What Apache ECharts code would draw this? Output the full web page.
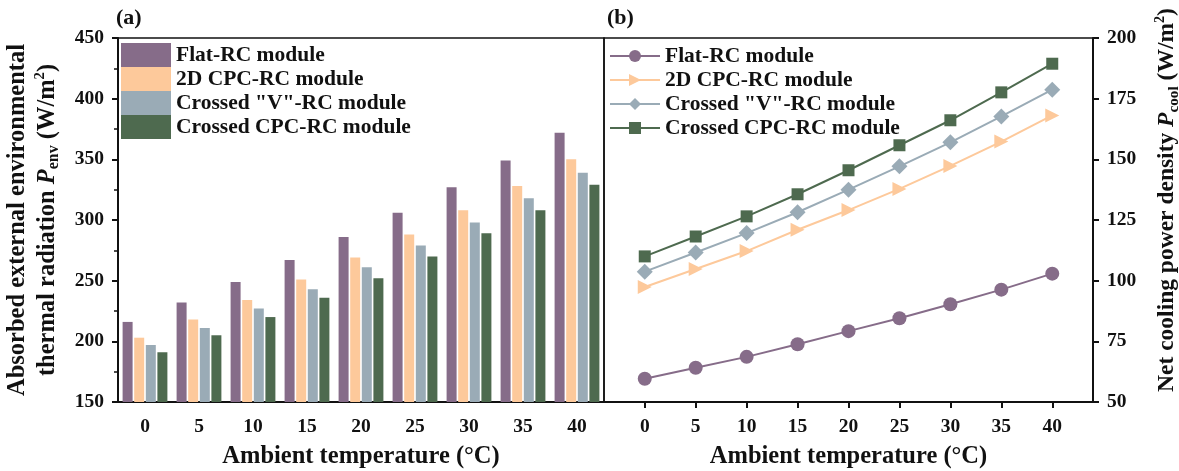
<!DOCTYPE html>
<html>
<head>
<meta charset="utf-8">
<script src="https://cdn.jsdelivr.net/npm/echarts@6/dist/echarts.min.js"></script>
<style>
  html, body { margin: 0; padding: 0; background: #fff; }
  #chart { width: 1179px; height: 471px; }
</style>
</head>
<body>
<div id="chart"></div>
<script>
// ambient temperature (°C)
const temps = [0, 5, 10, 15, 20, 25, 30, 35, 40]
const seriesNames = ['Flat-RC module', '2D CPC-RC module', 'Crossed "V"-RC module', 'Crossed CPC-RC module']
const colors = ['#866c89', '#fdc99b', '#9aabb6', '#4e6a4f']

// (a) absorbed external environmental thermal radiation, W/m2
const envFlat = [216, 232, 249, 267, 286, 306, 327, 349, 372]
const env2D = [203, 218, 234, 251, 269, 288, 308, 328, 350]
const envV = [197, 211, 227, 243, 261, 279, 298, 318, 339]
const envCPC = [191, 205, 220, 236, 252, 270, 289, 308, 329]

// (b) net cooling power density, W/m2
const coolFlat = [59.6, 64.1, 68.6, 73.8, 79.2, 84.5, 90.3, 96.3, 102.9]
const cool2D = [97.4, 104.8, 112.2, 121.0, 129.1, 137.8, 147.3, 157.3, 168.1]
const coolV = [103.7, 111.6, 119.6, 128.2, 137.5, 147.1, 157.0, 167.7, 178.7]
const coolCPC = [110.0, 118.2, 126.5, 135.6, 145.5, 155.8, 166.1, 177.6, 189.4]

const font = 'Liberation Serif'
const envData = [envFlat, env2D, envV, envCPC]
const coolData = [coolFlat, cool2D, coolV, coolCPC]
const symbols = ['circle', 'path://M0,0 L10,5 L0,10 Z', 'diamond', 'rect']
const symbolSizes = [14, 14, 16, 12]

const axisText = { fontFamily: font, fontWeight: 'bold', fontSize: 19.5, color: '#111' }
function nameStyle(size, pad) {
  return {
    fontFamily: font, fontWeight: 'bold', fontSize: size, color: '#111', lineHeight: size + 5,
    padding: pad,
    rich: {
      it: { fontFamily: font, fontWeight: 'bold', fontStyle: 'italic', fontSize: size, color: '#111' },
      sub: { fontFamily: font, fontWeight: 'bold', fontSize: size * 0.65, color: '#111', verticalAlign: 'bottom', padding: [9, 0, 0, 0] },
      sup: { fontFamily: font, fontWeight: 'bold', fontSize: size * 0.6, color: '#111', verticalAlign: 'top', padding: [0, 0, 9, 0] }
    }
  }
}

const chart = echarts.init(document.getElementById('chart'))
const option = {
  animation: false,
  textStyle: { fontFamily: font },
  title: [
    { text: '(a)', left: 116, top: 7, padding: 0, textStyle: { fontFamily: font, fontWeight: 'bold', fontSize: 22, color: '#111' } },
    { text: '(b)', left: 607, top: 7, padding: 0, textStyle: { fontFamily: font, fontWeight: 'bold', fontSize: 22, color: '#111' } }
  ],
  legend: [
    {
      data: seriesNames.map(n => ({ name: n, icon: 'rect' })),
      left: 121, top: 43, orient: 'vertical', padding: 0,
      itemWidth: 50, itemHeight: 24, itemGap: 0,
      textStyle: { fontFamily: font, fontWeight: 'bold', fontSize: 21.5, color: '#111' }
    },
    {
      data: seriesNames.map(n => ({ name: n + ' ' })),
      left: 609, top: 45, orient: 'vertical', padding: 0,
      itemWidth: 50, itemHeight: 15, itemGap: 2,
      textStyle: { fontFamily: font, fontWeight: 'bold', fontSize: 21.5, color: '#111', lineHeight: 22 }
    }
  ],
  grid: [
    { left: 118, right: 575, top: 38, bottom: 69, outerBoundsMode: 'none', show: true, borderColor: '#111', borderWidth: 1.5, backgroundColor: 'transparent' },
    { left: 604, right: 86, top: 38, bottom: 69, outerBoundsMode: 'none', show: true, borderColor: '#111', borderWidth: 1.5, backgroundColor: 'transparent' }
  ],
  xAxis: [
    {
      type: 'category', gridIndex: 0, data: temps,
      name: 'Ambient temperature (°C)', nameLocation: 'middle', nameGap: 42,
      nameTextStyle: { fontFamily: font, fontWeight: 'bold', fontSize: 24.5, color: '#111' },
      axisLine: { lineStyle: { color: '#111', width: 2 } },
      axisTick: { alignWithLabel: true, length: 6, lineStyle: { color: '#111', width: 2 } },
      axisLabel: Object.assign({ margin: 15 }, axisText),
      splitLine: { show: false }
    },
    {
      type: 'value', gridIndex: 1, min: -4, max: 44,
      name: 'Ambient temperature (°C)', nameLocation: 'middle', nameGap: 42,
      nameTextStyle: { fontFamily: font, fontWeight: 'bold', fontSize: 24.5, color: '#111' },
      axisLine: { onZero: false, lineStyle: { color: '#111', width: 2 } },
      axisTick: { length: 6, customValues: temps, lineStyle: { color: '#111', width: 2 } },
      axisLabel: Object.assign({ margin: 15, customValues: temps }, axisText),
      splitLine: { show: false }
    }
  ],
  yAxis: [
    {
      type: 'value', gridIndex: 0, min: 150, max: 450, interval: 50,
      name: 'Absorbed external environmental\nthermal radiation {it|P}{sub|env} (W/m{sup|2})',
      nameLocation: 'middle', nameGap: 56,
      nameTextStyle: nameStyle(24.5, 0),
      axisLine: { show: true, onZero: false, lineStyle: { color: '#111', width: 2 } },
      axisTick: { show: true, length: 6, lineStyle: { color: '#111', width: 2 } },
      minorTick: { show: true, splitNumber: 2, length: 4, lineStyle: { color: '#111', width: 1.5 } },
      axisLabel: Object.assign({ margin: 14 }, axisText),
      splitLine: { show: false }
    },
    {
      type: 'value', gridIndex: 1, position: 'right', min: 50, max: 200, interval: 25,
      name: 'Net cooling power density {it|P}{sub|cool} (W/m{sup|2})',
      nameLocation: 'middle', nameGap: 60,
      nameTextStyle: nameStyle(23.5, [0, 0, 0, 40]),
      axisLine: { show: true, onZero: false, lineStyle: { color: '#111', width: 2 } },
      axisTick: { show: true, length: 6, lineStyle: { color: '#111', width: 2 } },
      axisLabel: Object.assign({ margin: 14 }, axisText),
      splitLine: { show: false }
    }
  ],
  series: [
    ...envData.map((d, i) => ({
      name: seriesNames[i], type: 'bar', xAxisIndex: 0, yAxisIndex: 0,
      data: d, barWidth: 10, barGap: '16%', barCategoryGap: '16%',
      itemStyle: { color: colors[i] }
    })),
    ...coolData.map((d, i) => ({
      name: seriesNames[i] + ' ', type: 'line', xAxisIndex: 1, yAxisIndex: 1,
      data: d.map((v, j) => [temps[j], v]),
      symbol: symbols[i], symbolSize: symbolSizes[i],
      lineStyle: { color: colors[i], width: 2 },
      itemStyle: { color: colors[i] }
    }))
  ]
}
chart.setOption(option)
window.addEventListener('resize', () => chart.resize())
</script>
</body>
</html>
